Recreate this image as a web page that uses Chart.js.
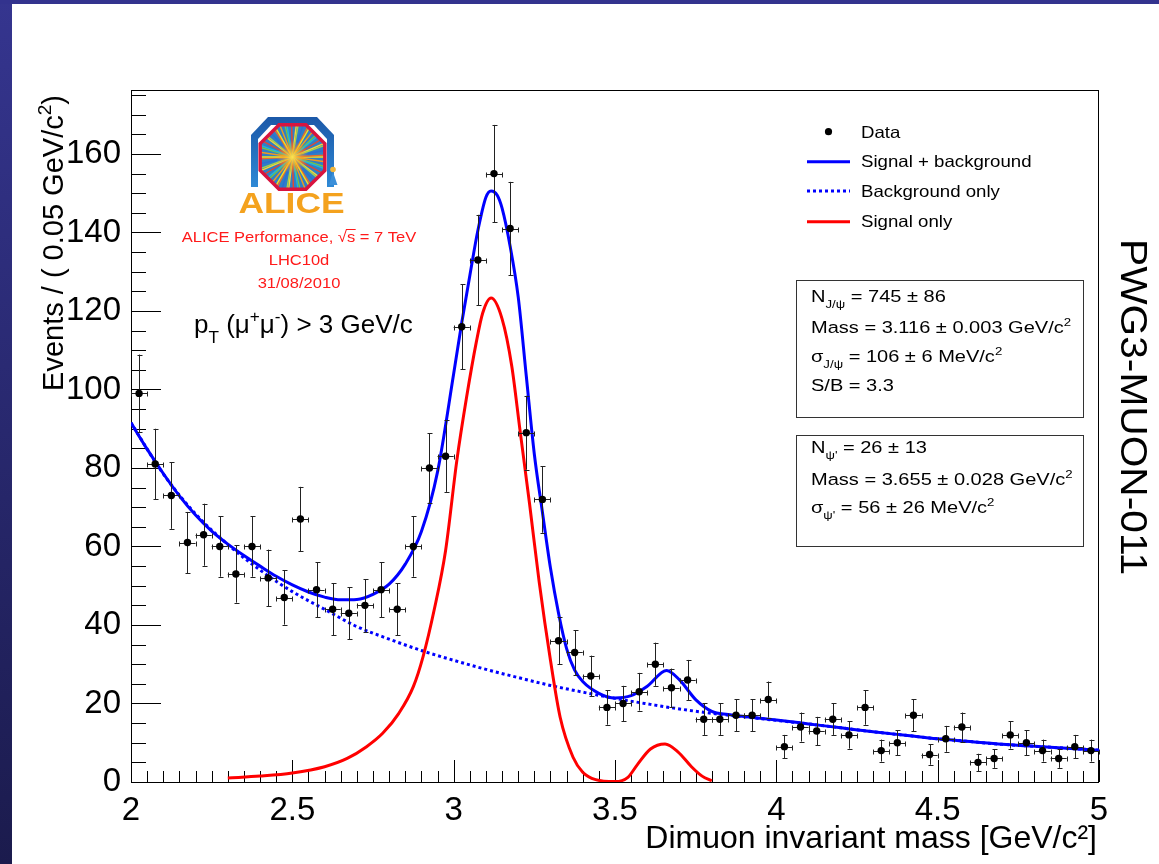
<!DOCTYPE html>
<html>
<head>
<meta charset="utf-8">
<title>Dimuon invariant mass</title>
<script src="https://cdn.jsdelivr.net/npm/chart.js@4.4.1/dist/chart.umd.min.js"></script>
<style>
  html, body { margin: 0; padding: 0; background: #fff; overflow: hidden; }
  canvas { display: block; }
</style>
</head>
<body>
<canvas id="massPlot" width="1159" height="864" style="width:1159px;height:864px"></canvas>
<script>
const FONT = "'Liberation Sans', Arial, Helvetica, sans-serif";

// ---- histogram: dimuon invariant mass, 0.05 GeV/c^2 bins ----
const massBins = [2.025, 2.075, 2.125, 2.175, 2.225, 2.275, 2.325, 2.375, 2.425, 2.475,
                  2.525, 2.575, 2.625, 2.675, 2.725, 2.775, 2.825, 2.875, 2.925, 2.975,
                  3.025, 3.075, 3.125, 3.175, 3.225, 3.275, 3.325, 3.375, 3.425, 3.475,
                  3.525, 3.575, 3.625, 3.675, 3.725, 3.775, 3.825, 3.875, 3.925, 3.975,
                  4.025, 4.075, 4.125, 4.175, 4.225, 4.275, 4.325, 4.375, 4.425, 4.475,
                  4.525, 4.575, 4.625, 4.675, 4.725, 4.775, 4.825, 4.875, 4.925, 4.975];
const counts = [99, 81, 73, 61, 63, 60, 53, 60, 52, 47,
                67, 49, 44, 43, 45, 49, 44, 60, 80, 83,
                116, 133, 155, 141, 89, 72, 36, 33, 27, 19,
                20, 23, 30, 24, 26, 16, 16, 17, 17, 21,
                9, 14, 13, 16, 12, 19, 8, 10, 17, 7,
                11, 14, 5, 6, 12, 10, 8, 6, 9, 8];
const countErrors = [9.9, 9.0, 8.5, 7.8, 7.9, 7.7, 7.3, 7.7, 7.2, 6.9,
                     8.2, 7.0, 6.6, 6.6, 6.7, 7.0, 6.6, 7.7, 8.9, 9.1,
                     10.8, 11.5, 12.4, 11.9, 9.4, 8.5, 6.0, 5.7, 5.2, 4.4,
                     4.5, 4.8, 5.5, 4.9, 5.1, 4.0, 4.0, 4.1, 4.1, 4.6,
                     3.0, 3.7, 3.6, 4.0, 3.5, 4.4, 2.8, 3.2, 4.1, 2.6,
                     3.3, 3.7, 2.2, 2.4, 3.5, 3.2, 2.8, 2.4, 3.0, 2.8];
const binHalfWidth = 0.025;

// ---- fit curves ----
const sumMass = [2.0, 2.05, 2.1, 2.15, 2.2, 2.25, 2.3, 2.35, 2.4, 2.45,
                 2.5, 2.55, 2.6, 2.65, 2.7, 2.75, 2.8, 2.85, 2.9, 2.95,
                 3.0, 3.025, 3.05, 3.075, 3.1, 3.116, 3.135, 3.15, 3.175, 3.2,
                 3.225, 3.25, 3.275, 3.3, 3.325, 3.35, 3.375, 3.4, 3.45, 3.5,
                 3.55, 3.6, 3.66, 3.7, 3.75, 3.8, 3.85, 3.9, 4.0, 4.1,
                 4.2, 4.3, 4.4, 4.5, 4.6, 4.7, 4.8, 4.9, 5.0];
const sumValues = [91.5, 84.8, 78.6, 72.9, 68.0, 63.9, 60.6, 57.7, 55.0, 52.4,
                   50.2, 48.4, 47.1, 46.4, 46.5, 47.8, 50.4, 55.5, 63.8, 79.0,
                   104.0, 117.0, 129.0, 140.5, 149.0, 150.6, 149.5, 146.2, 136.5, 123.6,
                   103.5, 83.5, 68.8, 54.5, 43.0, 34.0, 28.5, 25.6, 22.6, 21.4,
                   22.0, 24.4, 28.4, 26.0, 21.0, 18.0, 17.2, 16.7, 15.8, 14.8,
                   13.8, 12.8, 11.9, 11.0, 10.3, 9.6, 9.1, 8.6, 8.1];

const bgMass = [2.0, 2.1, 2.2, 2.3, 2.4, 2.5, 2.6, 2.7, 2.8, 2.9,
                3.0, 3.1, 3.2, 3.3, 3.4, 3.5, 3.6, 3.7, 3.8, 3.9,
                4.0, 4.1, 4.2, 4.3, 4.4, 4.5, 4.6, 4.7, 4.8, 4.9, 5.0];
const bgValues = [91.5, 78.5, 68.3, 60.5, 54.0, 48.5, 44.0, 39.6, 36.4, 33.5,
                  31.0, 28.7, 26.6, 24.6, 22.9, 21.3, 19.9, 18.6, 17.5, 16.6,
                  15.7, 14.8, 13.8, 12.8, 11.9, 11.0, 10.3, 9.6, 9.1, 8.6, 8.1];

const sigMass = [2.3, 2.4, 2.5, 2.6, 2.67, 2.73, 2.78, 2.83, 2.875, 2.905,
                 2.94, 2.975, 3.01, 3.04, 3.07, 3.09, 3.116, 3.15, 3.18, 3.205,
                 3.235, 3.265, 3.3, 3.33, 3.37, 3.4, 3.44, 3.5, 3.54, 3.57,
                 3.61, 3.655, 3.695, 3.737, 3.77, 3.8];
const sigValues = [1.0, 1.5, 2.3, 3.9, 6.0, 9.0, 12.4, 17.5, 24.3, 31.9,
                   44.0, 59.0, 82.0, 98.0, 112.0, 119.5, 123.3, 118.0, 106.0, 90.0,
                   71.0, 51.0, 31.0, 16.5, 6.3, 2.5, 0.6, 0.1, 1.2, 4.5,
                   8.4, 9.7, 7.7, 3.9, 1.5, 0.3];

// ---- axes ----
const xTickValues = [2, 2.5, 3, 3.5, 4, 4.5, 5];
const xTickLabels = ['2', '2.5', '3', '3.5', '4', '4.5', '5'];
const yTickValues = [0, 20, 40, 60, 80, 100, 120, 140, 160];
const yTickLabels = ['0', '20', '40', '60', '80', '100', '120', '140', '160'];
const xRange = [2, 5];
const yRange = [0, 176.3];

const seriesNames = ['Data', 'Signal + background', 'Background only', 'Signal only'];

// ---- fit results ----
const jpsiFitLines = [
  [{ t: 'N' }, { t: 'J/ψ', sub: true }, { t: ' = 745 ± 86' }],
  [{ t: 'Mass = 3.116 ± 0.003 GeV/c' }, { t: '2', sup: true }],
  [{ t: 'σ' }, { t: 'J/ψ', sub: true }, { t: ' = 106 ± 6 MeV/c' }, { t: '2', sup: true }],
  [{ t: 'S/B = 3.3' }]
];
const psi2sFitLines = [
  [{ t: 'N' }, { t: "ψ'", sub: true }, { t: ' = 26 ± 13' }],
  [{ t: 'Mass = 3.655 ± 0.028 GeV/c' }, { t: '2', sup: true }],
  [{ t: 'σ' }, { t: "ψ'", sub: true }, { t: ' = 56 ± 26 MeV/c' }, { t: '2', sup: true }]
];

// ---- text helpers ----
function drawRich(ctx, runs, x, y, size, opts) {
  const o = Object.assign({ sx: 1, align: 'left', color: '#000', weight: '' }, opts || {});
  const items = runs.map(r => {
    const s = r.sub || r.sup ? size * 0.66 : size;
    const dy = r.sub ? size * 0.38 : (r.sup ? -size * 0.42 : 0);
    ctx.font = `${o.weight} ${s}px ${FONT}`;
    return { t: r.t, s, dy, w: ctx.measureText(r.t).width };
  });
  const total = items.reduce((a, b) => a + b.w, 0);
  ctx.save();
  ctx.translate(x, y);
  ctx.scale(o.sx, 1);
  ctx.fillStyle = o.color;
  ctx.textBaseline = 'alphabetic';
  ctx.textAlign = 'left';
  let cx = o.align === 'center' ? -total / 2 : (o.align === 'right' ? -total : 0);
  const spans = [];
  for (const it of items) {
    ctx.font = `${o.weight} ${it.s}px ${FONT}`;
    ctx.fillText(it.t, cx, it.dy);
    spans.push([x + cx * o.sx, x + (cx + it.w) * o.sx]);
    cx += it.w;
  }
  ctx.restore();
  return spans;
}

// ---- plugins ----
const slideFrame = {
  id: 'slideFrame',
  beforeDraw(chart) {
    const ctx = chart.ctx;
    ctx.save();
    ctx.fillStyle = '#ffffff';
    ctx.fillRect(0, 0, chart.width, chart.height);
    const g = ctx.createLinearGradient(0, 0, 0, chart.height);
    g.addColorStop(0, '#35358f');
    g.addColorStop(1, '#1b1b4d');
    ctx.fillStyle = g;
    ctx.fillRect(0, 0, 12, chart.height);
    ctx.fillStyle = '#33338e';
    ctx.fillRect(0, 0, chart.width, 4);
    ctx.restore();
  }
};

const rootFrame = {
  id: 'rootFrame',
  beforeDatasetsDraw(chart) {
    const { ctx, chartArea: a } = chart;
    const xs = chart.scales.x, ys = chart.scales.y;
    ctx.save();
    ctx.strokeStyle = '#000';
    ctx.lineWidth = 1;
    ctx.strokeRect(a.left + 0.5, a.top + 0.5, a.right - a.left - 1, a.bottom - a.top);
    ctx.beginPath();
    // inward ticks on the mass axis: minor every bin width, major every 0.5
    for (let k = 0; k <= 60; k++) {
      const px = Math.round(xs.getPixelForValue(xRange[0] + k * 0.05)) + 0.5;
      const len = k % 10 === 0 ? 22 : 11;
      ctx.moveTo(px, a.bottom);
      ctx.lineTo(px, a.bottom - len);
    }
    // inward ticks on the event axis: minor every 5, major every 20
    for (let k = 0; k * 5 <= yRange[1]; k++) {
      const py = Math.round(ys.getPixelForValue(k * 5)) + 0.5;
      const len = k % 4 === 0 ? 30 : 15;
      ctx.moveTo(a.left, py);
      ctx.lineTo(a.left + len, py);
    }
    ctx.stroke();
    ctx.restore();
  }
};

const errorBars = {
  id: 'errorBars',
  beforeDatasetDraw(chart, args) {
    if (args.index !== 0) return;
    const ctx = chart.ctx;
    const xs = chart.scales.x, ys = chart.scales.y;
    ctx.save();
    ctx.strokeStyle = '#222';
    ctx.lineWidth = 1;
    ctx.beginPath();
    massBins.forEach((m, i) => {
      const px = Math.round(xs.getPixelForValue(m)) + 0.5;
      const py = Math.round(ys.getPixelForValue(counts[i])) + 0.5;
      const yHi = ys.getPixelForValue(counts[i] + countErrors[i]);
      const yLo = ys.getPixelForValue(counts[i] - countErrors[i]);
      const xL = xs.getPixelForValue(m - binHalfWidth);
      const xR = xs.getPixelForValue(m + binHalfWidth);
      ctx.moveTo(px, yHi); ctx.lineTo(px, yLo);
      ctx.moveTo(px - 2, Math.round(yHi) + 0.5); ctx.lineTo(px + 3, Math.round(yHi) + 0.5);
      ctx.moveTo(px - 2, Math.round(yLo) + 0.5); ctx.lineTo(px + 3, Math.round(yLo) + 0.5);
      ctx.moveTo(xL, py); ctx.lineTo(xR, py);
      ctx.moveTo(Math.round(xL) + 0.5, py - 2); ctx.lineTo(Math.round(xL) + 0.5, py + 3);
      ctx.moveTo(Math.round(xR) + 0.5, py - 2); ctx.lineTo(Math.round(xR) + 0.5, py + 3);
    });
    ctx.stroke();
    ctx.restore();
  }
};

function drawLogo(ctx) {
  ctx.save();
  // magnet yoke
  const yoke = ctx.createLinearGradient(0, 117, 0, 188);
  yoke.addColorStop(0, '#1b58a8');
  yoke.addColorStop(1, '#2f8ad6');
  ctx.fillStyle = yoke;
  ctx.beginPath();
  ctx.moveTo(251, 187); ctx.lineTo(251, 135); ctx.lineTo(268, 117);
  ctx.lineTo(317, 117); ctx.lineTo(334, 135); ctx.lineTo(334, 187);
  ctx.closePath();
  ctx.fill();
  ctx.fillStyle = '#fff';
  ctx.beginPath();
  ctx.moveTo(258, 190); ctx.lineTo(258, 139); ctx.lineTo(271, 125);
  ctx.lineTo(314, 125); ctx.lineTo(327, 139); ctx.lineTo(327, 190);
  ctx.closePath();
  ctx.fill();
  // detector octagon with a burst of tracks
  const cx = 292.5, cy = 157, R = 35;
  const oct = () => {
    ctx.beginPath();
    for (let k = 0; k < 8; k++) {
      const a = Math.PI / 8 + k * Math.PI / 4;
      const px = cx + R * Math.cos(a), py = cy + R * Math.sin(a);
      if (k === 0) ctx.moveTo(px, py); else ctx.lineTo(px, py);
    }
    ctx.closePath();
  };
  ctx.save();
  oct();
  ctx.clip();
  ctx.fillStyle = '#2f7fc6';
  ctx.fillRect(cx - R, cy - R, 2 * R, 2 * R);
  const rayColors = ['#f7e21c', '#f29a1d', '#7cc242', '#22b6d8', '#e9452c', '#fbd43a', '#a6d24c', '#2c6fd3', '#ee6a2a'];
  ctx.lineWidth = 1.4;
  for (let k = 0; k < 54; k++) {
    const a = k * 2 * Math.PI / 54 + 0.03 * (k % 3);
    ctx.strokeStyle = rayColors[k % rayColors.length];
    ctx.beginPath();
    ctx.moveTo(cx, cy);
    ctx.lineTo(cx + 42 * Math.cos(a), cy + 42 * Math.sin(a));
    ctx.stroke();
  }
  const glow = ctx.createRadialGradient(cx, cy, 0, cx, cy, 16);
  glow.addColorStop(0, 'rgba(255,235,80,0.95)');
  glow.addColorStop(0.6, 'rgba(245,160,40,0.55)');
  glow.addColorStop(1, 'rgba(245,160,40,0)');
  ctx.fillStyle = glow;
  ctx.fillRect(cx - 20, cy - 20, 40, 40);
  ctx.restore();
  oct();
  ctx.strokeStyle = '#d8143f';
  ctx.lineWidth = 3.5;
  ctx.stroke();
  // little figure
  ctx.fillStyle = '#3b8fd9';
  ctx.beginPath();
  ctx.moveTo(329, 185); ctx.lineTo(337.5, 185); ctx.lineTo(333, 172); ctx.closePath();
  ctx.fill();
  ctx.fillStyle = '#f2b63c';
  ctx.beginPath();
  ctx.arc(333, 169.5, 2.8, 0, 2 * Math.PI);
  ctx.fill();
  ctx.restore();
  drawRich(ctx, [{ t: 'ALICE' }], 291.5, 213, 30, { sx: 1.18, align: 'center', color: '#f4a21e', weight: 'bold' });
}

const annotations = {
  id: 'annotations',
  afterDraw(chart) {
    const ctx = chart.ctx;
    const ds = chart.data.datasets;
    ctx.save();

    // axis titles
    drawRich(ctx, [{ t: 'Dimuon invariant mass [GeV/c²]' }], 1097, 848, 32, { align: 'right' });
    ctx.save();
    ctx.translate(63, 95);
    ctx.rotate(-Math.PI / 2);
    drawRich(ctx, [{ t: 'Events / ( 0.05 GeV/c' }, { t: '2', sup: true }, { t: ')' }], 0, 0, 29, { align: 'right' });
    ctx.restore();
    ctx.save();
    ctx.translate(1121, 239);
    ctx.rotate(Math.PI / 2);
    drawRich(ctx, [{ t: 'PWG3-MUON-011' }], 0, 0, 37, { sx: 1.1 });
    ctx.restore();

    // legend
    const lx0 = 807, lx1 = 850, tx = 861;
    const rowsY = [131.7, 161.7, 191, 221.7];
    const baseY = [138.3, 167.3, 196.7, 226.7];
    ctx.fillStyle = '#000';
    ctx.beginPath();
    ctx.arc(828.5, rowsY[0], 3.6, 0, 2 * Math.PI);
    ctx.fill();
    [1, 2, 3].forEach(i => {
      ctx.save();
      ctx.strokeStyle = ds[i].borderColor;
      ctx.lineWidth = 3;
      ctx.setLineDash(ds[i].borderDash || []);
      ctx.beginPath();
      ctx.moveTo(lx0, rowsY[i]);
      ctx.lineTo(lx1, rowsY[i]);
      ctx.stroke();
      ctx.restore();
    });
    ds.forEach((d, i) => drawRich(ctx, [{ t: d.label }], tx, baseY[i], 16.5, { sx: 1.13 }));

    // fit-result boxes
    ctx.strokeStyle = '#333';
    ctx.lineWidth = 1;
    ctx.strokeRect(796.5, 280.5, 287, 137);
    ctx.strokeRect(796.5, 435.5, 287, 111);
    const box1Y = [301.7, 333.3, 361.7, 390.7];
    const box2Y = [453.3, 485, 513.3];
    jpsiFitLines.forEach((ln, i) => drawRich(ctx, ln, 811, box1Y[i], 16.3, { sx: 1.23 }));
    psi2sFitLines.forEach((ln, i) => drawRich(ctx, ln, 811, box2Y[i], 16.3, { sx: 1.23 }));

    // experiment label
    drawLogo(ctx);
    const red = '#ff1a1a';
    const spans = drawRich(ctx, [{ t: 'ALICE Performance, ' }, { t: '√' }, { t: 's' }, { t: ' = 7 TeV' }],
                           299, 241.7, 15.3, { sx: 1.08, align: 'center', color: red });
    ctx.strokeStyle = red;
    ctx.lineWidth = 1;
    ctx.beginPath();
    ctx.moveTo(spans[1][1] - 1, 229.5);
    ctx.lineTo(spans[2][1] + 0.5, 229.5);
    ctx.stroke();
    drawRich(ctx, [{ t: 'LHC10d' }], 299, 265, 15.3, { sx: 1.08, align: 'center', color: red });
    drawRich(ctx, [{ t: '31/08/2010' }], 299, 288.3, 15.3, { sx: 1.08, align: 'center', color: red });

    // kinematic selection
    drawRich(ctx, [{ t: 'p' }, { t: 'T', sub: true }, { t: ' (μ' }, { t: '+', sup: true }, { t: 'μ' },
                   { t: '-', sup: true }, { t: ') > 3 GeV/c' }], 194, 333.3, 26, {});
    ctx.restore();
  }
};

// ---- chart ----
const toPoints = (xsArr, ysArr) => xsArr.map((x, i) => ({ x, y: ysArr[i] }));

new Chart(document.getElementById('massPlot'), {
  type: 'line',
  data: {
    datasets: [
      {
        label: seriesNames[0],
        data: toPoints(massBins, counts),
        showLine: false,
        pointRadius: 3.7,
        pointBackgroundColor: '#000',
        pointBorderColor: '#000',
        pointBorderWidth: 0,
        order: 0
      },
      {
        label: seriesNames[1],
        data: toPoints(sumMass, sumValues),
        borderColor: '#0000ff',
        borderWidth: 3,
        pointRadius: 0,
        cubicInterpolationMode: 'monotone',
        fill: false,
        order: 1
      },
      {
        label: seriesNames[2],
        data: toPoints(bgMass, bgValues),
        borderColor: '#0000ff',
        borderWidth: 3,
        borderDash: [3, 3],
        pointRadius: 0,
        cubicInterpolationMode: 'monotone',
        fill: false,
        order: 3
      },
      {
        label: seriesNames[3],
        data: toPoints(sigMass, sigValues),
        borderColor: '#ff0000',
        borderWidth: 3,
        pointRadius: 0,
        cubicInterpolationMode: 'monotone',
        fill: false,
        order: 2
      }
    ]
  },
  options: {
    responsive: false,
    animation: false,
    devicePixelRatio: 1,
    events: [],
    layout: { padding: { top: 90, right: 60, left: 0, bottom: 0 } },
    plugins: { legend: { display: false }, tooltip: { enabled: false } },
    scales: {
      x: {
        type: 'linear',
        min: xRange[0],
        max: xRange[1],
        afterBuildTicks: s => { s.ticks = xTickValues.map(v => ({ value: v })); },
        afterFit: s => { s.height = 82; },
        grid: { display: false, drawTicks: false },
        border: { display: false },
        ticks: {
          autoSkip: false,
          maxRotation: 0,
          padding: 9,
          color: '#000',
          font: { family: FONT, size: 33 },
          callback: v => xTickLabels[xTickValues.indexOf(v)]
        }
      },
      y: {
        type: 'linear',
        min: yRange[0],
        max: yRange[1],
        afterBuildTicks: s => { s.ticks = yTickValues.map(v => ({ value: v })); },
        afterFit: s => { s.width = 131; },
        grid: { display: false, drawTicks: false },
        border: { display: false },
        ticks: {
          autoSkip: false,
          padding: 10,
          color: '#000',
          font: { family: FONT, size: 33 },
          callback: v => yTickLabels[yTickValues.indexOf(v)]
        }
      }
    }
  },
  plugins: [slideFrame, rootFrame, errorBars, annotations]
});
</script>
</body>
</html>
